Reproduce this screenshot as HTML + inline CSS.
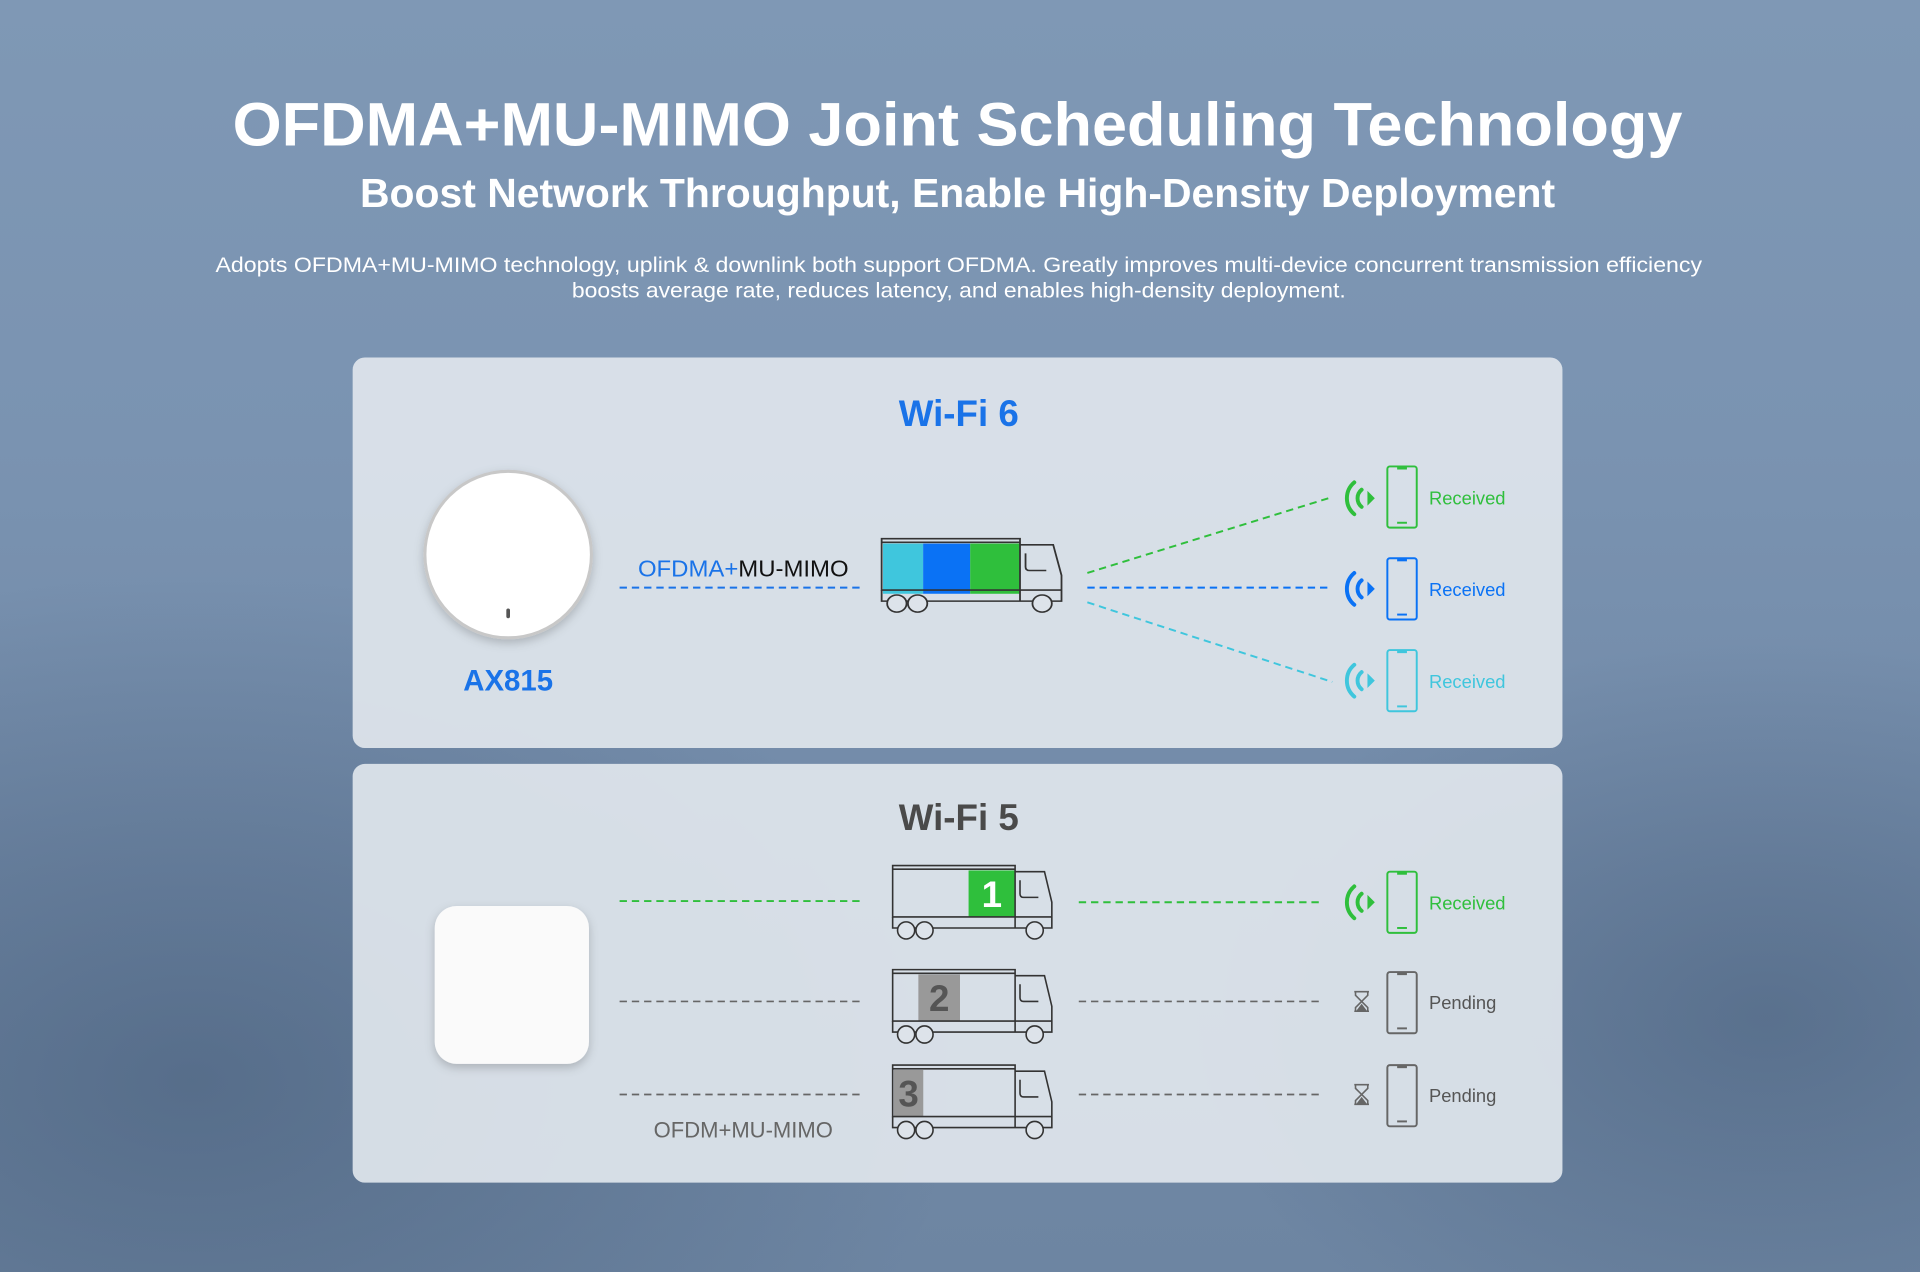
<!DOCTYPE html>
<html><head><meta charset="utf-8"><style>
html,body{margin:0;padding:0;width:1920px;height:1272px;overflow:hidden}
svg{display:block}
text{font-family:"Liberation Sans","DejaVu Sans",sans-serif}
</style></head><body>
<svg width="1920" height="1272" viewBox="0 0 1568 1039" preserveAspectRatio="none" xmlns="http://www.w3.org/2000/svg">
<defs>
<linearGradient id="bg" x1="0" y1="0" x2="0" y2="1">
<stop offset="0" stop-color="#7f98b5"/><stop offset="0.35" stop-color="#7a93b1"/><stop offset="0.7" stop-color="#7189a7"/><stop offset="1" stop-color="#6d85a2"/>
</linearGradient>
<radialGradient id="dk" cx="0.1" cy="0.85" r="0.4"><stop offset="0" stop-color="#3e5470" stop-opacity="0.5"/><stop offset="1" stop-color="#3e5470" stop-opacity="0"/></radialGradient>
<radialGradient id="dk2" cx="0.92" cy="0.8" r="0.3"><stop offset="0" stop-color="#3e5470" stop-opacity="0.45"/><stop offset="1" stop-color="#3e5470" stop-opacity="0"/></radialGradient>
<filter id="sh" x="-30%" y="-30%" width="160%" height="160%"><feDropShadow dx="0" dy="3" stdDeviation="4" flood-color="#000" flood-opacity="0.2"/></filter>
<g id="truck" fill="none" stroke="#333" stroke-width="1.3">
<path d="M0,0 L100,0 L100,42 L0,42 Z"/>
<path d="M0,3 L100,3"/>
<path d="M100,5 L124,5 L130,30 L130,51 L0,51 L0,42"/>
<path d="M100,42 L130,42"/>
<path d="M100,42 L100,51"/>
<path d="M104,12 L104,23 Q104,26 107,26 L119,26"/>
<circle cx="11" cy="53" r="7" fill="#dde3ea"/><circle cx="26" cy="53" r="7" fill="#dde3ea"/><circle cx="116" cy="53" r="7" fill="#dde3ea"/>
</g>
<g id="phone" fill="none" stroke-width="1.6">
<rect x="0" y="0" width="24" height="50" rx="2"/>
<path d="M8,1.5 L16,1.5" stroke-width="2"/>
<path d="M8,46 L16,46"/>
</g>
<g id="wifi" fill="none" stroke-width="3.2" stroke-linecap="round">
<path d="M9,-13 A17,17 0 0 0 9,13"/>
<path d="M15,-7 A9,9 0 0 0 15,7"/>
<path d="M21,-3 L24,0 L21,3 Z" stroke-width="2.5"/>
</g>
<g id="hg" fill="none" stroke="#666" stroke-width="1.3">
<path d="M-6,-8 L6,-8 M-6,8 L6,8 M-5,-8 L-5,-5 L0,0 L-5,5 L-5,8 M5,-8 L5,-5 L0,0 L5,5 L5,8"/>
<path d="M-3,7 L3,7 L0,3 Z" fill="#666"/>
</g>
</defs>
<rect width="1568" height="1039" fill="url(#bg)"/>
<rect width="1568" height="1039" fill="url(#dk)"/>
<rect width="1568" height="1039" fill="url(#dk2)"/>

<text x="782" y="119" text-anchor="middle" font-size="50" font-weight="bold" fill="#fff" textLength="1184" lengthAdjust="spacingAndGlyphs">OFDMA+MU-MIMO Joint Scheduling Technology</text>
<text x="782" y="169" text-anchor="middle" font-size="33" font-weight="bold" fill="#fff" textLength="976" lengthAdjust="spacingAndGlyphs">Boost Network Throughput, Enable High-Density Deployment</text>
<text x="783" y="222" text-anchor="middle" font-size="17" fill="#fff" textLength="1214" lengthAdjust="spacingAndGlyphs">Adopts OFDMA+MU-MIMO technology, uplink &amp; downlink both support OFDMA. Greatly improves multi-device concurrent transmission efficiency</text>
<text x="783" y="243" text-anchor="middle" font-size="17" fill="#fff" textLength="632" lengthAdjust="spacingAndGlyphs">boosts average rate, reduces latency, and enables high-density deployment.</text>

<rect x="288" y="292" width="988" height="319" rx="10" fill="#dfe5ec" fill-opacity="0.93"/>
<text x="783" y="348" text-anchor="middle" font-size="30" font-weight="bold" fill="#1a73e8">Wi-Fi 6</text>
<circle cx="415" cy="453" r="68" fill="#fff" stroke="#c8c8c8" stroke-width="2.5" filter="url(#sh)"/>
<rect x="413.5" y="497" width="3" height="8" rx="1.5" fill="#555"/>
<text x="415" y="564" text-anchor="middle" font-size="24" font-weight="bold" fill="#1a73e8">AX815</text>
<text x="607" y="471" text-anchor="middle" font-size="19" textLength="172" lengthAdjust="spacingAndGlyphs"><tspan fill="#1a73e8">OFDMA+</tspan><tspan fill="#111">MU-MIMO</tspan></text>
<line x1="506" y1="480" x2="705" y2="480" stroke="#1a73e8" stroke-width="1.6" stroke-dasharray="6,4"/>
<g transform="translate(720,440) scale(1.13,1.0)">
<rect x="1" y="4" width="29" height="41" fill="#3fc6dd"/>
<rect x="30" y="4" width="34" height="41" fill="#0a72f5"/>
<rect x="64" y="4" width="36" height="41" fill="#2fbf3c"/>
<use href="#truck"/>
</g>
<line x1="888" y1="468" x2="1088" y2="406" stroke="#2fbf3c" stroke-width="1.6" stroke-dasharray="6,4"/>
<line x1="888" y1="480" x2="1088" y2="480" stroke="#0a72f5" stroke-width="1.6" stroke-dasharray="6,4"/>
<line x1="888" y1="492" x2="1088" y2="557" stroke="#3fc6dd" stroke-width="1.6" stroke-dasharray="6,4"/>
<use href="#wifi" x="1097" y="407" stroke="#2fbf3c"/>
<use href="#phone" x="1133" y="381" stroke="#2fbf3c"/>
<text x="1167" y="412" font-size="15" fill="#2fbf3c">Received</text>
<use href="#wifi" x="1097" y="481" stroke="#0a72f5"/>
<use href="#phone" x="1133" y="456" stroke="#0a72f5"/>
<text x="1167" y="487" font-size="15" fill="#0a72f5">Received</text>
<use href="#wifi" x="1097" y="556" stroke="#3fc6dd"/>
<use href="#phone" x="1133" y="531" stroke="#3fc6dd"/>
<text x="1167" y="562" font-size="15" fill="#3fc6dd">Received</text>

<rect x="288" y="624" width="988" height="342" rx="10" fill="#dfe5ec" fill-opacity="0.93"/>
<text x="783" y="678" text-anchor="middle" font-size="30" font-weight="bold" fill="#4a4a4a">Wi-Fi 5</text>
<rect x="355" y="740" width="126" height="129" rx="18" fill="#fafafa" filter="url(#sh)"/>
<line x1="506" y1="736" x2="705" y2="736" stroke="#2fbf3c" stroke-width="1.6" stroke-dasharray="6,4"/>
<line x1="506" y1="818" x2="705" y2="818" stroke="#666" stroke-width="1.4" stroke-dasharray="6,4"/>
<line x1="506" y1="894" x2="705" y2="894" stroke="#666" stroke-width="1.4" stroke-dasharray="6,4"/>
<text x="607" y="929" text-anchor="middle" font-size="18" fill="#666">OFDM+MU-MIMO</text>

<g transform="translate(729,707)">
<rect x="62" y="4" width="38" height="38" fill="#2fbf3c"/>
<text x="81" y="34" text-anchor="middle" font-size="30" font-weight="bold" fill="#fff">1</text>
<use href="#truck"/>
</g>
<g transform="translate(729,792)">
<rect x="21" y="4" width="34" height="38" fill="#999"/>
<text x="38" y="34" text-anchor="middle" font-size="30" font-weight="bold" fill="#555">2</text>
<use href="#truck"/>
</g>
<g transform="translate(729,870)">
<rect x="1" y="4" width="24" height="38" fill="#999"/>
<text x="13" y="34" text-anchor="middle" font-size="30" font-weight="bold" fill="#555">3</text>
<use href="#truck"/>
</g>

<line x1="881" y1="737" x2="1080" y2="737" stroke="#2fbf3c" stroke-width="1.6" stroke-dasharray="6,4"/>
<line x1="881" y1="818" x2="1080" y2="818" stroke="#666" stroke-width="1.4" stroke-dasharray="6,4"/>
<line x1="881" y1="894" x2="1080" y2="894" stroke="#666" stroke-width="1.4" stroke-dasharray="6,4"/>
<use href="#wifi" x="1097" y="737" stroke="#2fbf3c"/>
<use href="#phone" x="1133" y="712" stroke="#2fbf3c"/>
<text x="1167" y="743" font-size="15" fill="#2fbf3c">Received</text>
<use href="#hg" x="1112" y="818"/>
<use href="#phone" x="1133" y="794" stroke="#666"/>
<text x="1167" y="824" font-size="15" fill="#555">Pending</text>
<use href="#hg" x="1112" y="894"/>
<use href="#phone" x="1133" y="870" stroke="#666"/>
<text x="1167" y="900" font-size="15" fill="#555">Pending</text>
</svg>
</body></html>
